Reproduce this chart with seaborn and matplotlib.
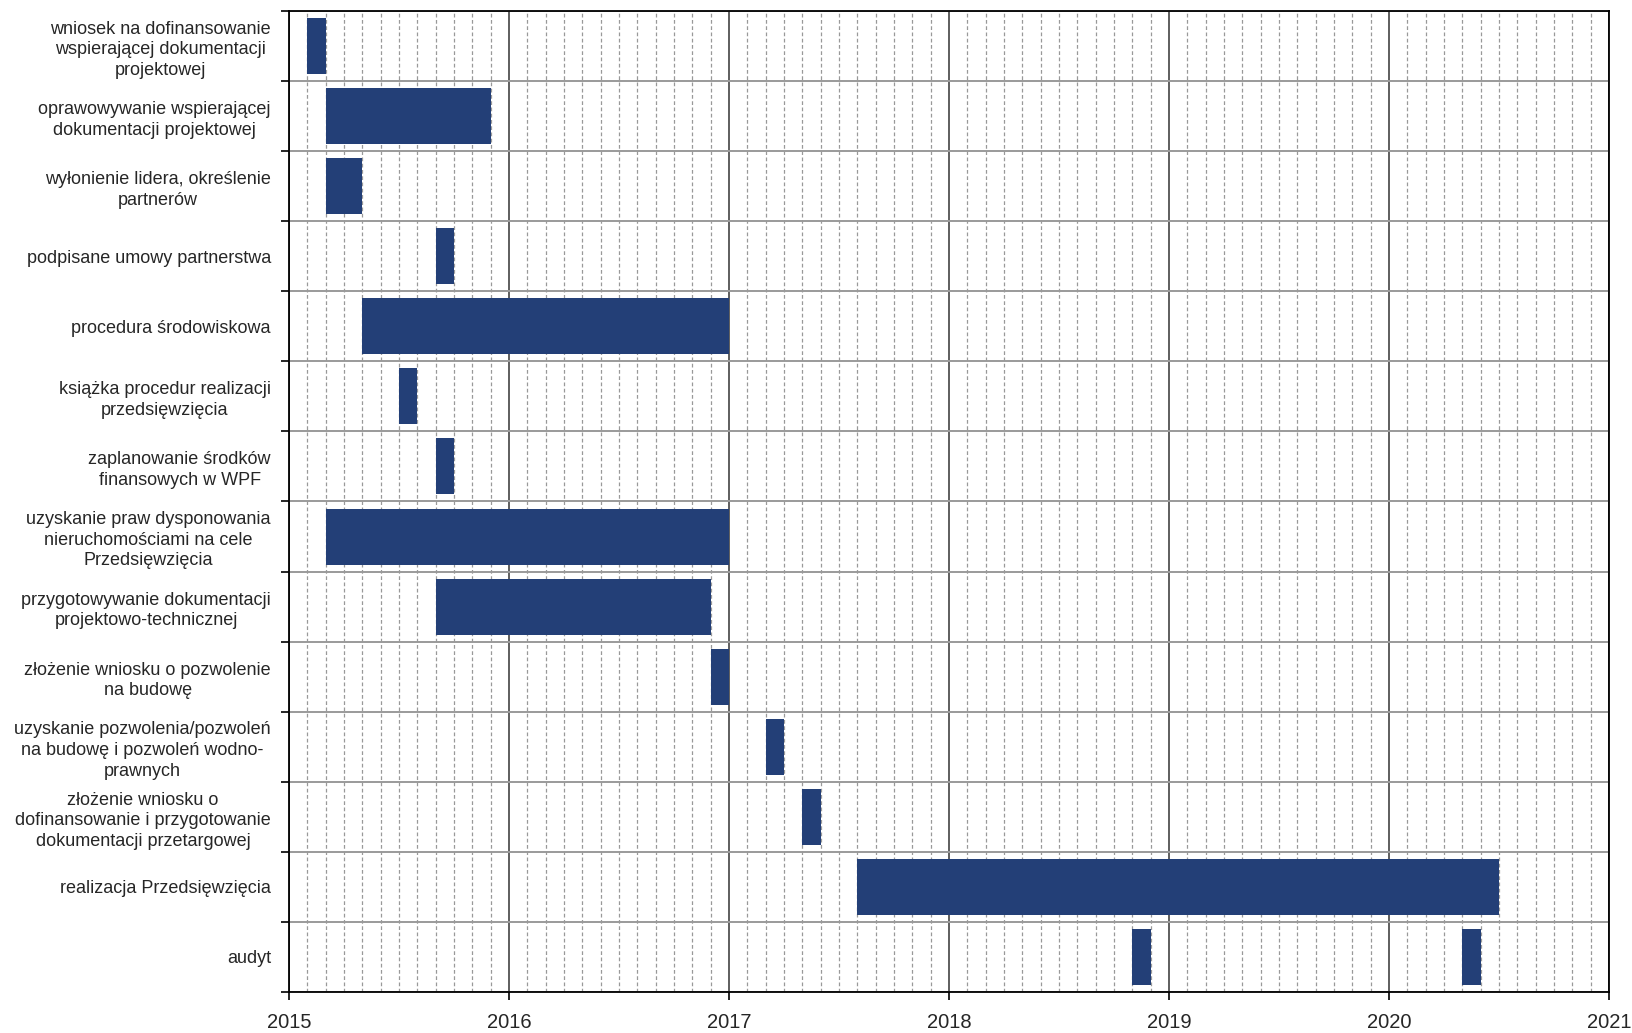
import matplotlib
matplotlib.use("Agg")
import matplotlib.pyplot as plt
import matplotlib.ticker as ticker
import seaborn as sns
import pandas as pd

# zadania (od góry do dołu)
tasks = [
    "wniosek na dofinansowanie\nwspierającej dokumentacji\nprojektowej",
    "oprawowywanie wspierającej\ndokumentacji projektowej",
    "wyłonienie lidera, określenie\npartnerów",
    "podpisane umowy partnerstwa",
    "procedura środowiskowa",
    "książka procedur realizacji\nprzedsięwzięcia",
    "zaplanowanie środków\nfinansowych w WPF",
    "uzyskanie praw dysponowania\nnieruchomościami na cele\nPrzedsięwzięcia",
    "przygotowywanie dokumentacji\nprojektowo-technicznej",
    "złożenie wniosku o pozwolenie\nna budowę",
    "uzyskanie pozwolenia/pozwoleń\nna budowę i pozwoleń wodno-\nprawnych",
    "złożenie wniosku o\ndofinansowanie i przygotowanie\ndokumentacji przetargowej",
    "realizacja Przedsięwzięcia",
    "audyt",
]

# odcinki: numer zadania, poczatek i koniec w miesiacach od 01.2015
seg_task = [0, 1, 2, 3, 4, 5, 6, 7, 8, 9, 10, 11, 12, 13, 13]
seg_start = [1, 2, 2, 8, 4, 6, 8, 2, 8, 23, 26, 28, 31, 46, 64]
seg_end = [2, 11, 4, 9, 24, 7, 9, 24, 23, 24, 27, 29, 66, 47, 65]

years = [2015, 2016, 2017, 2018, 2019, 2020, 2021]

df = pd.DataFrame({"task": seg_task, "start": seg_start, "end": seg_end})
df["dur"] = df["end"] - df["start"]

sns.set_style("white")
plt.rcParams["font.family"] = ["Liberation Sans", "DejaVu Sans"]

fig = plt.figure(figsize=(16.33, 10.33), dpi=100)
ax = fig.add_axes([289 / 1633, 1 - 992 / 1033, (1609 - 289) / 1633, (992 - 11) / 1033])

ax.barh(df["task"], df["dur"], left=df["start"], height=0.8, color="#233f77",
        edgecolor="none", linewidth=0, zorder=3)

n = len(tasks)
ax.set_ylim(n - 0.5, -0.5)
ax.set_xlim(0, 12 * (len(years) - 1))

# os x: lata (glowne), miesiace (pomocnicze)
ax.xaxis.set_major_locator(ticker.FixedLocator([12 * i for i in range(len(years))]))
ax.xaxis.set_major_formatter(ticker.FixedFormatter([str(y) for y in years]))
ax.xaxis.set_minor_locator(ticker.MultipleLocator(1))
ax.tick_params(axis="x", which="major", direction="out", length=6, width=1.2,
               color="black", labelsize=14.5, pad=9, bottom=True)
ax.tick_params(axis="x", which="minor", length=0)

# os y: granice wierszy (glowne), etykiety (pomocnicze)
ax.yaxis.set_major_locator(ticker.FixedLocator([i - 0.5 for i in range(n + 1)]))
ax.yaxis.set_major_formatter(ticker.NullFormatter())
ax.yaxis.set_minor_locator(ticker.FixedLocator(list(range(n))))
ax.yaxis.set_minor_formatter(ticker.FixedFormatter(tasks))
ax.tick_params(axis="y", which="major", direction="out", length=6, width=1.2,
               color="black", left=True)
ax.tick_params(axis="y", which="minor", length=0, labelsize=13, pad=13)
for lab in ax.get_yticklabels(minor=True):
    lab.set_multialignment("center")
    lab.set_linespacing(1.27)

ax.grid(axis="x", which="minor", color="#999999", linestyle=(0, (3, 2)), linewidth=0.9, zorder=1)
ax.grid(axis="x", which="major", color="#333333", linestyle="-", linewidth=1.1, zorder=2)
ax.grid(axis="y", which="major", color="#9a9a9a", linestyle="-", linewidth=1.4, zorder=2)
ax.set_axisbelow(True)

for side in ["left", "bottom", "top", "right"]:
    ax.spines[side].set_visible(True)
    ax.spines[side].set_color("black")
    ax.spines[side].set_linewidth(1.3)

ax.set_xlabel("")
ax.set_ylabel("")

fig.savefig("out.png", dpi=100)
